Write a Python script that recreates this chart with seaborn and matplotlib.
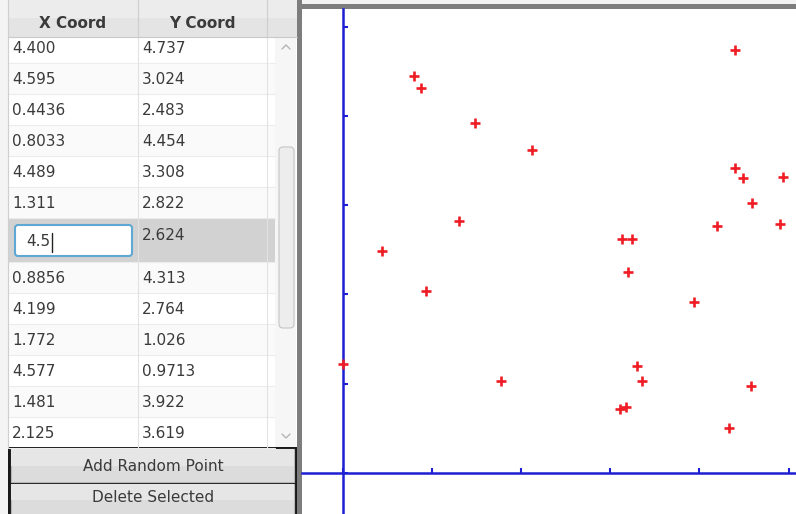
import matplotlib
matplotlib.use("Agg")
import matplotlib.pyplot as plt
from matplotlib.patches import Rectangle, FancyBboxPatch
import seaborn as sns
import pandas as pd

# ---------------- data ----------------
x_coord = [4.400, 4.595, 0.4436, 0.8033, 4.489, 1.311, 3.128, 0.8856, 4.199,
           1.772, 4.577, 1.481, 2.125,
           4.400, 4.942, 4.905, 3.240, 3.197, 3.946, 3.298, 3.354, 3.111,
           3.178, 4.336, 0.933, 0.002]
y_coord = [4.737, 3.024, 2.483, 4.454, 3.308, 2.822, 2.624, 4.313, 2.764,
           1.026, 0.9713, 3.922, 3.619,
           3.414, 3.320, 2.789, 2.618, 2.254, 1.911, 1.197, 1.033, 0.715,
           0.734, 0.506, 2.038, 1.220]
visible_rows = 13           # rows currently shown in the table
editing_row = 6             # row being edited
editing_text = "4.5"
column_titles = ["X Coord", "Y Coord"]
button_labels = ["Add Random Point", "Delete Selected"]
axis_ticks = [0, 1, 2, 3, 4, 5]

df = pd.DataFrame({"x": x_coord, "y": y_coord})

sns.set_theme(style="white")
plt.rcParams["font.family"] = ["DejaVu Sans"]

W, H = 796, 514
fig = plt.figure(figsize=(W / 100, H / 100), dpi=100)
fig.patch.set_facecolor("#f4f4f4")

# background / UI axes in pixel coordinates
bg = fig.add_axes([0, 0, 1, 1], zorder=0)
bg.set_xlim(0, W)
bg.set_ylim(H, 0)
bg.axis("off")

txt_col = "#3a3a3a"

# table body
bg.add_patch(Rectangle((8, 0), 289, 448, facecolor="white", edgecolor="none"))
row_h = [31] * visible_rows
row_h[editing_row] = 44
top = 32
for i in range(visible_rows):
    h = row_h[i]
    if i == editing_row:
        bg.add_patch(Rectangle((8, top), 267, h, facecolor="#d2d2d2", edgecolor="none"))
    elif i % 2 == 1:
        bg.add_patch(Rectangle((8, top), 267, h, facecolor="#fafafa", edgecolor="none"))
    bg.plot([8, 275], [top + h, top + h], color="#ececec", lw=0.8)
    cy = top + h / 2
    if i == editing_row:
        bg.add_patch(FancyBboxPatch((15, 225), 117, 31, boxstyle="round,pad=0,rounding_size=3",
                                    facecolor="white", edgecolor="#5fa8d3", lw=1.5))
        bg.text(26, 242, editing_text, fontsize=11, color=txt_col, va="center", ha="left")
        bg.plot([52, 52], [233, 252], color="#222222", lw=1)
        bg.text(142, cy - 5, "%#.4g" % y_coord[i], fontsize=11, color=txt_col, va="center", ha="left")
    else:
        bg.text(12, cy + 1, "%#.4g" % x_coord[i], fontsize=11, color=txt_col, va="center", ha="left")
        bg.text(142, cy + 1, "%#.4g" % y_coord[i], fontsize=11, color=txt_col, va="center", ha="left")
    top += h

# column separators
for cx in (138, 267):
    bg.plot([cx, cx], [0, 448], color="#e2e2e2", lw=0.8)

# header
bg.add_patch(Rectangle((8, 0), 289, 37, facecolor="#e4e4e4", edgecolor="none"))
bg.add_patch(Rectangle((8, 0), 289, 18, facecolor="#ececec", edgecolor="none"))
bg.plot([8, 297], [37, 37], color="#c8c8c8", lw=0.8)
for cx in (138, 267):
    bg.plot([cx, cx], [0, 37], color="#cfcfcf", lw=0.8)
bg.text(73, 23, column_titles[0], fontsize=11, fontweight="bold", color=txt_col, ha="center", va="center")
bg.text(202, 23, column_titles[1], fontsize=11, fontweight="bold", color=txt_col, ha="center", va="center")
bg.plot([8, 8], [0, 448], color="#cfcfcf", lw=0.8)

# scrollbar
bg.add_patch(Rectangle((275, 37), 21, 410, facecolor="#f6f6f6", edgecolor="none"))
bg.add_patch(FancyBboxPatch((279, 147), 15, 181, boxstyle="round,pad=0,rounding_size=4",
                            facecolor="#ededed", edgecolor="#c4c4c4", lw=0.8))
bg.plot([282, 286, 290], [49, 45, 49], color="#b5b5b5", lw=1)
bg.plot([282, 286, 290], [434, 438, 434], color="#b5b5b5", lw=1)

# buttons
bg.add_patch(Rectangle((8, 447), 289, 70, facecolor="#1a1a1a", edgecolor="none"))
for j, (by, bh) in enumerate(((449, 33), (484, 32))):
    bg.add_patch(Rectangle((11, by), 283, bh, facecolor="#dcdcdc", edgecolor="#b8b8b8", lw=0.8))
    bg.add_patch(Rectangle((11, by), 283, bh / 2, facecolor="#e6e6e6", edgecolor="none"))
    bg.text(153, by + bh / 2 + (1 if j == 0 else -2), button_labels[j], fontsize=11,
            color=txt_col, ha="center", va="center")

# gray frame around canvas
bg.add_patch(Rectangle((297, 0), 5, H, facecolor="#7d7d7d", edgecolor="none"))
bg.add_patch(Rectangle((297, 4), W - 297, 5, facecolor="#7d7d7d", edgecolor="none"))
bg.add_patch(Rectangle((302, 0), W - 302, 4, facecolor="#f2f2f2", edgecolor="none"))

# ---------------- scatter canvas ----------------
ox, oy, sc = 342.5, 472.8, 89.2      # pixel origin and pixels per unit
left_px, top_px = 302, 9
ax = fig.add_axes([left_px / W, 0, (W - left_px) / W, (H - top_px) / H], zorder=1)
ax.set_facecolor("white")
ax.set_xlim(-(ox - left_px) / sc, (W - ox) / sc)
ax.set_ylim(-(H - oy) / sc, (oy - top_px) / sc)

sns.scatterplot(data=df, x="x", y="y", marker="+", s=52, color="#ee1c24",
                linewidth=1.9, ax=ax, zorder=3)

blue = "#1e1ed2"
for side in ("top", "right"):
    ax.spines[side].set_visible(False)
ax.spines["left"].set_position(("data", 0))
ax.spines["bottom"].set_position(("data", 0))
for side in ("left", "bottom"):
    ax.spines[side].set_color(blue)
    ax.spines[side].set_linewidth(1.8)
ax.set_xticks(axis_ticks)
ax.set_yticks(axis_ticks)
ax.set_xticklabels([])
ax.set_yticklabels([])
ax.tick_params(direction="in", length=3.5, width=1.5, color=blue,
               left=True, bottom=True)
ax.set_xlabel("")
ax.set_ylabel("")

fig.savefig("out.png", dpi=100)
